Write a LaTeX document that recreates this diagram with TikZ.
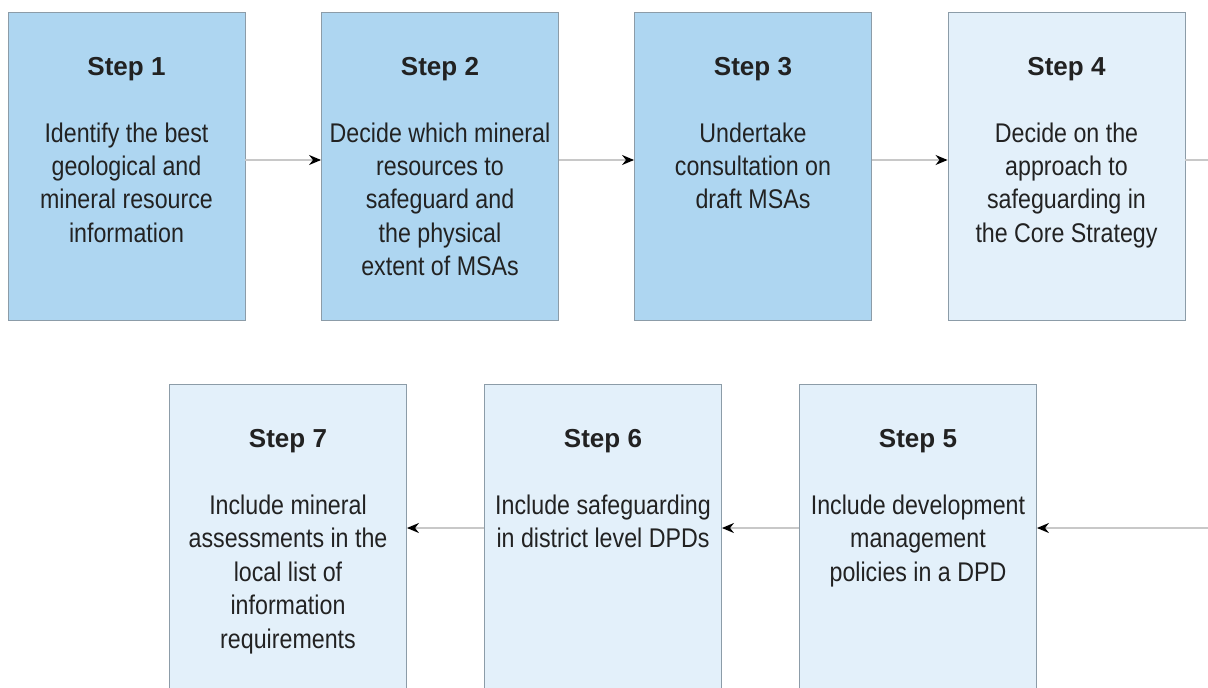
\documentclass[tikz,border=0pt]{standalone}
\usepackage{fontspec}
\setmainfont{Liberation Sans}
\newfontfamily\condfont[FakeStretch=0.86]{Liberation Sans}
\usetikzlibrary{arrows.meta}
\definecolor{dark}{HTML}{AED6F1}
\definecolor{light}{HTML}{E3F0FA}
\definecolor{edge}{HTML}{8C9CA8}
\definecolor{ink}{HTML}{222222}
\definecolor{conn}{HTML}{C8C8C8}
\begin{document}
\begin{tikzpicture}[x=1pt,y=-1pt,
 stepbox/.style={draw=edge, line width=0.9pt, minimum width=237pt, minimum height=308pt, inner sep=0pt},
 title/.style={font=\bfseries\fontsize{26}{30}\selectfont, text=ink, anchor=base, inner sep=0pt},
 body/.style={font=\condfont\fontsize{27}{33.4}\selectfont, text=ink, align=center, anchor=north, inner sep=0pt},
 arr/.style={draw=conn, line width=1.3pt, -{Stealth[length=12pt,width=10pt,color=black]}}]
\useasboundingbox (0,0) rectangle (1208,688);
\clip (0,0) rectangle (1208,688);
% top row
\node[stepbox, fill=dark] (b1) at (126.5,166) {};
\node[stepbox, fill=dark] (b2) at (440,166) {};
\node[stepbox, fill=dark] (b3) at (753,166) {};
\node[stepbox, fill=light] (b4) at (1066.5,166) {};
% bottom row
\node[stepbox, fill=light] (b7) at (288,538) {};
\node[stepbox, fill=light] (b6) at (603,538) {};
\node[stepbox, fill=light] (b5) at (918,538) {};
% titles
\node[title] (t1) at (126.5,75) {Step 1};
\node[title] (t2) at (440,75) {Step 2};
\node[title] (t3) at (753,75) {Step 3};
\node[title] (t4) at (1066.5,75) {Step 4};
\node[title] (t7) at (288,447) {Step 7};
\node[title] (t6) at (603,447) {Step 6};
\node[title] (t5) at (918,447) {Step 5};
% bodies
\node[body] (x1) at (126.5,118.6) {\strut Identify the best\\geological and\\mineral resource\\information};
\node[body] (x2) at (440,118.6) {\strut Decide which mineral\\resources to\\safeguard and\\the physical\\extent of MSAs};
\node[body] (x3) at (753,118.6) {\strut Undertake\\consultation on\\draft MSAs};
\node[body] (x4) at (1066.5,118.6) {\strut Decide on the\\approach to\\safeguarding in\\the Core Strategy};
\node[body] (x7) at (288,491) {\strut Include mineral\\assessments in the\\local list of\\information\\requirements};
\node[body] (x6) at (603,491) {\strut Include safeguarding\\in district level DPDs};
\node[body] (x5) at (918,491) {\strut Include development\\management\\policies in a DPD};
% connectors
\coordinate (r1) at (0,160);
\coordinate (r2) at (0,528);
\coordinate (e1) at (1208,160);
\coordinate (e2) at (1208,528);
\draw[arr] (b1.east |- r1) -- (b2.west |- r1);
\draw[arr] (b2.east |- r1) -- (b3.west |- r1);
\draw[arr] (b3.east |- r1) -- (b4.west |- r1);
\draw[draw=conn, line width=1.3pt] (b4.east |- r1) -- (e1);
\draw[arr] (e2) -- (b5.east |- r2);
\draw[arr] (b5.west |- r2) -- (b6.east |- r2);
\draw[arr] (b6.west |- r2) -- (b7.east |- r2);
\end{tikzpicture}
\end{document}
